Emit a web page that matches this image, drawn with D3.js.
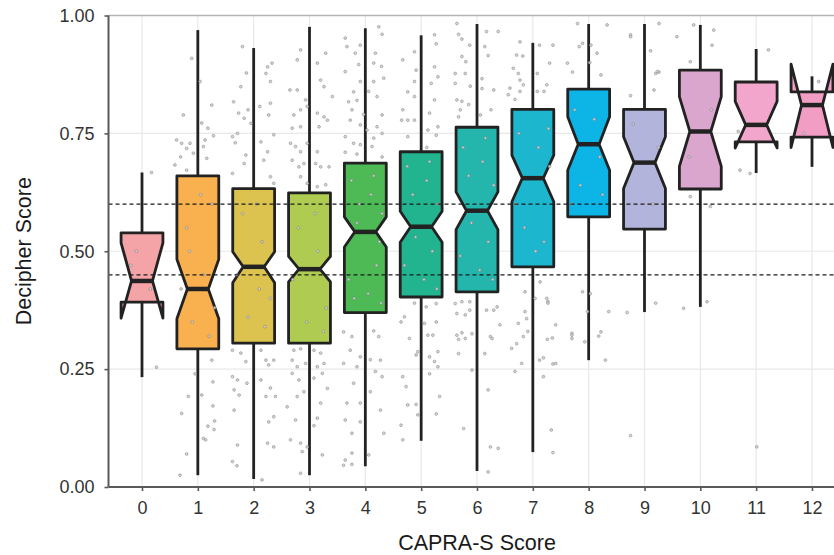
<!DOCTYPE html>
<html>
<head>
<meta charset="utf-8">
<script src="https://cdn.jsdelivr.net/npm/d3@7"></script>
<style>
  body { margin: 0; background: #fff; }
  svg { display: block; font-family: "Liberation Sans", Arial, sans-serif; }
</style>
</head>
<body>
<svg id="chart" width="834" height="555"></svg>
<script>
// CAPRA-S score categories
var scores = ["0","1","2","3","4","5","6","7","8","9","10","11","12"];

// box statistics
var lowerWhisker = [0.233, 0.025, 0.017, 0.025, 0.044, 0.098, 0.034, 0.074, 0.269, 0.371, 0.382, 0.666, 0.679];
var q1           = [0.392, 0.293, 0.305, 0.305, 0.370, 0.403, 0.414, 0.467, 0.573, 0.547, 0.632, 0.732, 0.742];
var medians      = [0.437, 0.420, 0.467, 0.462, 0.541, 0.552, 0.586, 0.655, 0.727, 0.688, 0.754, 0.768, 0.810];
var q3           = [0.539, 0.660, 0.633, 0.624, 0.687, 0.711, 0.763, 0.801, 0.844, 0.801, 0.884, 0.859, 0.838];
var upperWhisker = [0.667, 0.969, 0.931, 0.976, 0.973, 0.958, 0.982, 0.942, 0.982, 0.982, 0.980, 0.929, 0.871];
var notchLow     = [0.358, 0.357, 0.433, 0.435, 0.509, 0.519, 0.546, 0.605, 0.672, 0.633, 0.680, 0.719, 0.720];
var notchHigh    = [0.518, 0.483, 0.499, 0.489, 0.573, 0.585, 0.626, 0.704, 0.785, 0.743, 0.828, 0.818, 0.897];

var boxColors = ["#F4A3A7","#F9B04F","#DCC24F","#B0CB52","#4DBA56","#22B48F","#24B6AC",
                 "#1CB7CE","#0CB5E6","#B3B4DB","#DBA6CE","#F3A6CB","#F29DC3"];

// reference lines
var cutoffs = [0.45, 0.60];
var yTicks = [0, 0.25, 0.5, 0.75, 1];

// jittered patients: [offset in category units, decipher score]
var jit0 = [[0.17,0.667],[0.26,0.254],[-0.2,0.47],[0.15,0.42],[-0.1,0.50]];
var jit1 = [[-0.11,0.909],[0.04,0.86],[0.25,0.81],[-0.26,0.789],[0.07,0.772],[0.18,0.761],[-0.38,0.736],[-0.29,0.729],
  [-0.2,0.718],[-0.14,0.729],[0.13,0.736],[-0.41,0.683],[-0.08,0.708],[0.1,0.722],[-0.2,0.672],[0.16,0.697],[-0.31,0.70],
  [0.28,0.745],[0.25,0.269],[0.27,0.223],[-0.17,0.192],[0.07,0.195],[-0.29,0.156],[0.27,0.172],[0.18,0.129],[0.29,0.122],
  [0.1,0.103],[0.14,0.10],[-0.2,0.07],[-0.32,0.025],[-0.05,0.24],[0.3,0.14],[-0.2,0.55],[0.1,0.45],[0.25,0.60],
  [-0.1,0.35],[0.2,0.32],[-0.3,0.42],[0.05,0.62],[-0.15,0.50],[0.3,0.38]];
var jit2 = [[-0.2,0.934],[-0.13,0.878],[0.25,0.891],[0.33,0.899],[-0.23,0.849],[0.3,0.86],[0.22,0.877],[-0.36,0.817],
  [-0.1,0.80],[0.11,0.807],[0.3,0.814],[-0.27,0.793],[-0.17,0.782],[-0.05,0.771],[0.27,0.789],[0.36,0.747],[-0.38,0.743],
  [-0.29,0.75],[0.13,0.732],[0.25,0.711],[-0.14,0.704],[-0.38,0.665],[-0.17,0.686],[0.18,0.693],[0.3,0.658],[0.36,0.644],
  [-0.33,0.73],[-0.38,0.29],[-0.23,0.284],[-0.14,0.266],[0.13,0.29],[0.22,0.269],[0.27,0.259],[0.36,0.269],[-0.38,0.234],
  [-0.29,0.227],[-0.35,0.206],[-0.26,0.195],[0.13,0.227],[0.3,0.21],[0.39,0.192],[0.22,0.192],[-0.35,0.163],[0.27,0.138],
  [0.36,0.149],[-0.29,0.089],[0.25,0.093],[-0.38,0.054],[-0.3,0.045],[0.36,0.085],[0.15,0.015],[-0.12,0.22],
  [-0.2,0.58],[0.15,0.52],[0.3,0.40],[-0.1,0.36],[0.05,0.60],[-0.3,0.45],[0.2,0.34],[0.1,0.42]];
var jit3 = [[-0.22,0.906],[0.14,0.899],[0.29,0.92],[-0.16,0.927],[0.2,0.863],[0.26,0.849],[-0.35,0.842],[-0.22,0.842],
  [-0.07,0.821],[0.41,0.828],[-0.28,0.789],[-0.16,0.80],[-0.04,0.807],[0.14,0.793],[0.26,0.785],[0.32,0.778],[-0.31,0.761],
  [-0.16,0.764],[0.17,0.764],[-0.34,0.729],[-0.25,0.722],[-0.16,0.711],[-0.04,0.729],[0.14,0.711],[-0.31,0.693],[-0.19,0.679],
  [-0.1,0.686],[0.11,0.686],[0.2,0.679],[0.35,0.679],[-0.16,0.658],[-0.04,0.644],[0.29,0.641],[0.14,0.637],
  [-0.28,0.29],[-0.16,0.293],[0.08,0.29],[0.2,0.284],[-0.31,0.269],[-0.22,0.255],[-0.07,0.262],[0.14,0.255],[0.26,0.262],
  [-0.31,0.241],[-0.19,0.227],[0.08,0.231],[0.23,0.241],[0.32,0.209],[-0.4,0.17],[-0.22,0.192],[-0.1,0.202],[0.2,0.178],
  [0.14,0.146],[-0.25,0.142],[-0.34,0.10],[-0.16,0.093],[-0.13,0.075],[0.23,0.068],[-0.04,0.085],[-0.16,0.029],[0.08,0.13],
  [-0.2,0.55],[0.15,0.50],[0.3,0.38],[-0.05,0.35],[0.1,0.58],[-0.3,0.44],[0.25,0.33]];
var jit4 = [[-0.36,0.952],[-0.33,0.934],[-0.09,0.937],[0.24,0.976],[0.3,0.96],[-0.18,0.92],[0.18,0.92],[0.15,0.899],
  [-0.12,0.896],[0.29,0.892],[-0.36,0.881],[-0.09,0.86],[0.15,0.86],[0.33,0.867],[-0.21,0.838],[0.06,0.839],[0.21,0.828],
  [-0.3,0.817],[-0.15,0.82],[-0.24,0.80],[-0.03,0.79],[0.3,0.789],[-0.27,0.778],[-0.09,0.768],[0.21,0.764],[-0.36,0.743],
  [0.03,0.757],[0.3,0.75],[-0.21,0.729],[-0.09,0.726],[0.15,0.74],[-0.36,0.71],[-0.15,0.706],[0.12,0.722],[0.3,0.70],
  [-0.39,0.329],[-0.24,0.319],[0.15,0.331],[0.24,0.319],[-0.27,0.29],[-0.09,0.276],[0.09,0.27],[0.27,0.269],[-0.39,0.262],
  [-0.15,0.255],[0.18,0.245],[0.3,0.234],[-0.21,0.22],[0.09,0.202],[-0.33,0.178],[-0.09,0.178],[0.27,0.163],[-0.36,0.142],
  [-0.24,0.114],[-0.09,0.138],[0.33,0.114],[0.06,0.068],[-0.24,0.072],[-0.36,0.057],[-0.24,0.048],[-0.39,0.046],
  [-0.25,0.65],[0.1,0.62],[0.3,0.58],[-0.15,0.56],[0.2,0.47],[-0.3,0.44],[0.05,0.41],[0.28,0.39],[-0.1,0.60],[0.15,0.66],
  [-0.2,0.40],[0.25,0.52]];
var jit5 = [[-0.12,0.923],[0.24,0.959],[0.27,0.94],[-0.33,0.906],[-0.09,0.884],[0.24,0.891],[0.3,0.87],[-0.12,0.86],
  [0.18,0.856],[-0.24,0.838],[-0.12,0.828],[0.24,0.821],[-0.33,0.80],[-0.24,0.778],[-0.12,0.778],[0.15,0.793],[0.3,0.764],
  [-0.35,0.778],[0.12,0.757],[0.27,0.746],[-0.24,0.743],[0.1,0.72],
  [-0.12,0.39],[-0.3,0.361],[0.09,0.382],[0.27,0.389],[0.06,0.347],[0.27,0.35],[-0.36,0.35],[0.12,0.322],[0.21,0.322],
  [-0.21,0.315],[0.3,0.287],[-0.06,0.287],[-0.09,0.28],[0.15,0.276],[0.24,0.266],[0.3,0.255],[-0.33,0.234],[0.15,0.24],
  [-0.27,0.213],[0.33,0.192],[-0.24,0.174],[-0.09,0.175],[-0.06,0.153],[0.27,0.155],[-0.36,0.131],[-0.33,0.10],
  [-0.25,0.68],[0.1,0.65],[0.3,0.60],[-0.15,0.62],[0.2,0.50],[-0.3,0.47],[0.05,0.44],[0.28,0.42],[-0.1,0.53],[0.15,0.69]];
var jit6 = [[-0.36,0.983],[-0.33,0.96],[-0.27,0.95],[0.17,0.966],[0.38,0.966],[-0.13,0.937],[0.14,0.934],[-0.27,0.913],
  [0.2,0.915],[-0.2,0.902],[-0.39,0.877],[-0.21,0.877],[0.09,0.866],[-0.39,0.856],[-0.12,0.85],[0.09,0.845],[0.3,0.842],
  [-0.36,0.821],[-0.27,0.818],[-0.15,0.811],[-0.3,0.80],[0.06,0.789],[-0.33,0.785],[0.25,0.80],
  [-0.27,0.393],[-0.13,0.393],[-0.39,0.389],[0.17,0.375],[0.3,0.375],[0.36,0.382],[-0.36,0.368],[-0.21,0.365],
  [-0.13,0.375],[0.41,0.344],[-0.36,0.322],[-0.27,0.327],[-0.09,0.325],[0.24,0.319],[-0.33,0.313],[-0.21,0.315],
  [0.27,0.315],[-0.33,0.283],[0.14,0.283],[-0.09,0.248],[0.2,0.206],[-0.24,0.124],[0.24,0.085],[0.38,0.082],[0.2,0.032],
  [-0.25,0.72],[0.1,0.69],[0.3,0.64],[-0.15,0.66],[0.2,0.52],[-0.3,0.49],[0.05,0.46],[0.28,0.44],[-0.1,0.56],[0.15,0.74]];
var jit7 = [[-0.23,0.944],[0.12,0.937],[0.36,0.937],[-0.29,0.916],[-0.18,0.914],[0.3,0.899],[-0.35,0.888],[-0.26,0.877],
  [0.08,0.877],[-0.23,0.863],[-0.17,0.853],[0.25,0.853],[-0.41,0.846],[-0.23,0.839],[0.08,0.839],[0.2,0.839],[-0.44,0.832],
  [-0.32,0.822],[-0.14,0.414],[0.04,0.40],[0.25,0.40],[0.27,0.393],[-0.14,0.372],[-0.11,0.357],[-0.26,0.347],[0.41,0.344],
  [-0.09,0.33],[-0.17,0.319],[-0.29,0.304],[-0.38,0.294],[0.26,0.313],[0.12,0.269],[0.41,0.262],[-0.2,0.262],
  [-0.32,0.245],[0.19,0.234],[0.33,0.121],[0.36,0.073],[0.13,0.435],[0.27,0.39],[0.35,0.316],[0.19,0.274],[0.36,0.261],
  [-0.25,0.75],[0.1,0.72],[0.3,0.68],[-0.15,0.55],[0.2,0.52],[-0.3,0.60],[0.05,0.50],[0.28,0.76]];
var jit8 = [[-0.2,0.983],[0.33,0.98],[-0.11,0.941],[-0.17,0.934],[0.04,0.937],[-0.38,0.899],[0.02,0.90],[0.22,0.874],
  [-0.29,0.88],[0.15,0.92],[-0.11,0.414],[0.03,0.41],[-0.02,0.372],[0.36,0.372],[-0.3,0.326],[-0.3,0.315],[-0.07,0.308],
  [0.22,0.329],[0.3,0.269],[-0.3,0.322],[0.18,0.32],[-0.25,0.80],[0.1,0.78],[0.25,0.62],[-0.15,0.64],[0.2,0.70],[-0.3,0.60]];
var jit9 = [[-0.25,0.959],[0.26,0.983],[0.11,0.925],[0.2,0.877],[0.26,0.88],[0.17,0.842],[-0.25,0.83],[0.23,0.881],
  [-0.25,0.955],[0.2,0.39],[-0.31,0.37],[-0.25,0.109],[-0.2,0.77],[0.15,0.60],[0.25,0.72]];
var jit10 = [[0.24,0.969],[0.21,0.937],[-0.42,0.955],[-0.12,0.98],[-0.18,0.902],[0.18,0.595],[-0.18,0.616],[-0.3,0.379],
  [0.12,0.393],[0.2,0.80],[-0.2,0.70]];
var jit11 = [[0.22,0.927],[-0.32,0.754],[-0.11,0.665],[-0.29,0.672],[0.01,0.085]];
var jit12 = [[-0.15,0.75],[0.12,0.86]];
var jitter = [jit0, jit1, jit2, jit3, jit4, jit5, jit6, jit7, jit8, jit9, jit10, jit11, jit12];

var svg = d3.select("#chart"),
    margin = {top: 15.5, right: -11.5, bottom: 68, left: 108.5},
    width = +svg.attr("width") - margin.left - margin.right,
    height = +svg.attr("height") - margin.top - margin.bottom,
    g = svg.append("g").attr("transform", "translate(" + margin.left + "," + margin.top + ")");

var x = d3.scalePoint()
    .domain(scores)
    .range([0, width])
    .padding(0.6);

var y = d3.scaleLinear()
    .domain([0, 1])
    .range([height, 0]);

var step = x.step();
var boxW = step * 0.75;
var indent = boxW * 0.25;

// grid
g.append("g").selectAll("line")
  .data(yTicks)
  .enter().append("line")
  .attr("x1", 0).attr("x2", width)
  .attr("y1", function(d) { return y(d); })
  .attr("y2", function(d) { return y(d); })
  .attr("stroke", "#e8e8e8")
  .attr("stroke-width", 1.2);

g.append("g").selectAll("line")
  .data(scores)
  .enter().append("line")
  .attr("x1", function(d) { return x(d); })
  .attr("x2", function(d) { return x(d); })
  .attr("y1", 0).attr("y2", height)
  .attr("stroke", "#e8e8e8")
  .attr("stroke-width", 1.2);

// panel top border
g.append("line")
  .attr("x1", 0).attr("x2", width).attr("y1", 0).attr("y2", 0)
  .attr("stroke", "#b3b3b3").attr("stroke-width", 1.4);

var stats = scores.map(function(s, i) {
  return {s: s, lw: lowerWhisker[i], q1: q1[i], med: medians[i], q3: q3[i],
          uw: upperWhisker[i], nl: notchLow[i], nu: notchHigh[i], color: boxColors[i]};
});

// whiskers
g.append("g").selectAll("g")
  .data(stats)
  .enter().append("g")
  .each(function(d) {
    var cx = x(d.s);
    d3.select(this).append("line")
      .attr("x1", cx).attr("x2", cx).attr("y1", y(d.q3)).attr("y2", y(d.uw))
      .attr("stroke", "#222").attr("stroke-width", 2.8);
    d3.select(this).append("line")
      .attr("x1", cx).attr("x2", cx).attr("y1", y(d.q1)).attr("y2", y(d.lw))
      .attr("stroke", "#222").attr("stroke-width", 2.8);
  });

// notched boxes, same outline as ggplot
g.append("g").selectAll("path")
  .data(stats)
  .enter().append("path")
  .attr("d", function(d) {
    var x0 = x(d.s) - boxW / 2, x1 = x(d.s) + boxW / 2;
    var pts = [
      [x0, y(d.q3)], [x0, y(d.nu)], [x0 + indent, y(d.med)], [x0, y(d.nl)], [x0, y(d.q1)],
      [x1, y(d.q1)], [x1, y(d.nl)], [x1 - indent, y(d.med)], [x1, y(d.nu)], [x1, y(d.q3)]
    ];
    return "M" + pts.join("L") + "Z";
  })
  .attr("fill", function(d) { return d.color; })
  .attr("stroke", "#222")
  .attr("stroke-width", 2.8)
  .attr("stroke-linejoin", "round");

// medians
g.append("g").selectAll("line")
  .data(stats)
  .enter().append("line")
  .attr("x1", function(d) { return x(d.s) - boxW / 2 + indent; })
  .attr("x2", function(d) { return x(d.s) + boxW / 2 - indent; })
  .attr("y1", function(d) { return y(d.med); })
  .attr("y2", function(d) { return y(d.med); })
  .attr("stroke", "#222")
  .attr("stroke-width", 4.5);

// jittered points
var pts = [];
jitter.forEach(function(arr, i) {
  arr.forEach(function(p) { pts.push({s: scores[i], dx: p[0], v: p[1]}); });
});
g.append("g").selectAll("circle")
  .data(pts)
  .enter().append("circle")
  .attr("cx", function(d) { return x(d.s) + d.dx * step; })
  .attr("cy", function(d) { return y(d.v); })
  .attr("r", 1.4)
  .attr("fill", "#d4d4d4")
  .attr("stroke", "#7f7f7f")
  .attr("stroke-width", 0.6)
  .attr("opacity", 0.9);

// dashed cutoffs
g.append("g").selectAll("line")
  .data(cutoffs)
  .enter().append("line")
  .attr("x1", 0).attr("x2", width)
  .attr("y1", function(d) { return y(d); })
  .attr("y2", function(d) { return y(d); })
  .attr("stroke", "#1a1a1a")
  .attr("stroke-width", 1.2)
  .attr("stroke-dasharray", "4,3");

// axes
var xAxis = g.append("g")
  .attr("transform", "translate(0," + height + ")")
  .call(d3.axisBottom(x).tickSize(4).tickPadding(10));
var yAxis = g.append("g")
  .call(d3.axisLeft(y).tickValues(yTicks).tickFormat(d3.format(".2f")).tickSize(4).tickPadding(10));

[xAxis, yAxis].forEach(function(a) {
  a.select(".domain").attr("stroke", "#5a5a5a").attr("stroke-width", 2);
  a.selectAll(".tick line").attr("stroke", "#5a5a5a").attr("stroke-width", 1.6);
  a.selectAll(".tick text")
    .attr("fill", "#333")
    .style("font-family", "Liberation Sans, Arial, sans-serif")
    .style("font-size", "18px");
});
xAxis.select(".domain").attr("d", "M0,0H" + width);
yAxis.select(".domain").attr("d", "M0,0V" + height);

svg.append("text")
  .attr("x", margin.left + width / 2)
  .attr("y", 550)
  .attr("text-anchor", "middle")
  .attr("fill", "#1a1a1a")
  .style("font-size", "21.5px")
  .text("CAPRA-S Score");

svg.append("text")
  .attr("transform", "translate(31," + (margin.top + height / 2) + ") rotate(-90)")
  .attr("text-anchor", "middle")
  .attr("fill", "#1a1a1a")
  .style("font-size", "21.5px")
  .text("Decipher Score");
</script>
</body>
</html>
